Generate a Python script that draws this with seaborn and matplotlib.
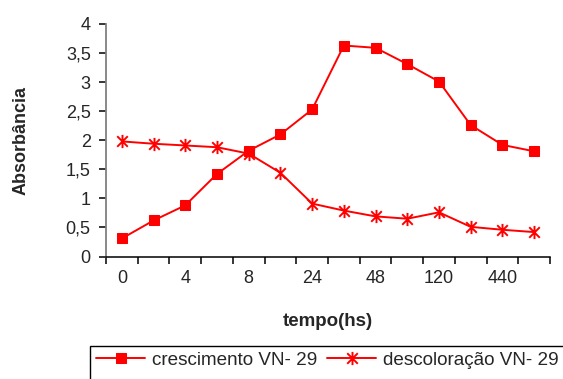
import matplotlib
matplotlib.use("Agg")
import matplotlib.pyplot as plt
from matplotlib.path import Path
from matplotlib.patches import Rectangle
from matplotlib.ticker import FixedLocator, NullFormatter
import seaborn as sns
import numpy as np

# Sampling times (hours); only every other one is labelled on the axis
tick_labels = ["0", "", "4", "", "8", "", "24", "", "48", "", "120", "", "440", ""]

crescimento = [0.31, 0.62, 0.88, 1.42, 1.82, 2.10, 2.53, 3.63, 3.59, 3.31, 3.01, 2.26, 1.92, 1.81]
descoloracao = [1.98, 1.94, 1.91, 1.88, 1.77, 1.44, 0.91, 0.79, 0.69, 0.65, 0.76, 0.51, 0.46, 0.42]

series_names = ["crescimento VN- 29", "descoloração VN- 29"]
y_ticks = [0, 0.5, 1, 1.5, 2, 2.5, 3, 3.5, 4]

sns.set_style("white")
plt.rcParams["font.family"] = ["Liberation Sans", "DejaVu Sans"]

RED = "#FF0000"

# Six-armed asterisk: vertical bar plus an X
star = Path(
    [(0, -1), (0, 1), (-0.8, -0.8), (0.8, 0.8), (-0.8, 0.8), (0.8, -0.8)],
    [Path.MOVETO, Path.LINETO, Path.MOVETO, Path.LINETO, Path.MOVETO, Path.LINETO],
)

fig = plt.figure(figsize=(5.63, 3.79), dpi=100)
ax = fig.add_axes([106 / 563, 1 - 256.5 / 379, 444 / 563, 232.5 / 379])

pos = np.arange(len(tick_labels))
sns.lineplot(x=pos, y=crescimento, ax=ax, color=RED, lw=1.4, marker="s",
             markersize=7.2, markeredgecolor=RED, markerfacecolor=RED,
             label=series_names[0], legend=False)
sns.lineplot(x=pos, y=descoloracao, ax=ax, color=RED, lw=1.4, marker=star,
             markersize=9.5, markeredgecolor=RED, markeredgewidth=1.4,
             label=series_names[1], legend=False)

ax.set_xlim(-0.5, len(tick_labels) - 0.5)
ax.set_ylim(0, 4)

# Category axis: labels at centres, tick marks on the boundaries
ax.set_xticks(pos)
ax.set_xticklabels(tick_labels, fontsize=13)
ax.xaxis.set_minor_locator(FixedLocator(np.arange(-0.5, len(tick_labels), 1.0)))
ax.xaxis.set_minor_formatter(NullFormatter())
ax.tick_params(axis="x", which="major", length=0, pad=10)
ax.tick_params(axis="x", which="minor", length=5, width=1.1, color="black",
               direction="out", bottom=True)

ax.set_yticks(y_ticks)
ax.set_yticklabels([f"{v:g}".replace(".", ",") for v in y_ticks], fontsize=13)
ax.tick_params(axis="y", length=5, width=1.1, color="black", direction="out",
               left=True, pad=6)

for side in ["top", "right"]:
    ax.spines[side].set_visible(False)
ax.spines["left"].set_color("#808080")
ax.spines["left"].set_linewidth(1.3)
ax.spines["bottom"].set_color("black")
ax.spines["bottom"].set_linewidth(1.1)
ax.grid(False)

ax.set_xlabel("tempo(hs)", fontsize=13.5, fontweight="bold")
ax.xaxis.set_label_coords(0.5, -0.245)
ax.set_ylabel("Absorbância", fontsize=13, fontweight="bold")
ax.yaxis.set_label_coords(-0.172, 0.5)

# Legend below the plot, inside an open-bottomed frame
handles, labels = ax.get_legend_handles_labels()
fig.legend(handles, labels, loc="center left", ncol=2,
           bbox_to_anchor=(96 / 563, 1 - 360 / 379), frameon=False,
           fontsize=13.6, handlelength=2.6, handletextpad=0.35,
           columnspacing=0.55, borderaxespad=0, borderpad=0)
fig.patches.append(Rectangle((90 / 563, -0.05), 475 / 563, 0.05 + (379 - 346) / 379,
                             transform=fig.transFigure, fill=False,
                             edgecolor="black", linewidth=1.0))

fig.savefig("out.png", dpi=100)
